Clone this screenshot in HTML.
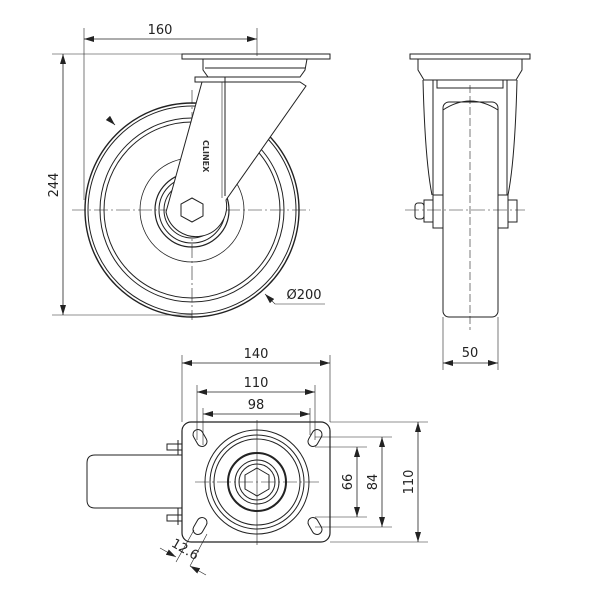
<!DOCTYPE html><html><head><style>body{margin:0;background:#fff}svg{display:block}text{font-family:"DejaVu Sans","Liberation Sans",sans-serif;font-size:13px;fill:#222}</style></head><body>
<svg width="600" height="600" viewBox="0 0 600 600" xmlns="http://www.w3.org/2000/svg">
<defs><marker id="a" markerWidth="10" markerHeight="6" refX="10" refY="3" orient="auto-start-reverse" markerUnits="userSpaceOnUse"><path d="M0,0 L10,3 L0,6 Z" fill="#222"/></marker></defs>
<g fill="none" stroke="#222" stroke-width="1">
<!-- SIDE VIEW -->
<circle cx="192" cy="210" r="107" stroke-width="1.4"/>
<circle cx="192" cy="210" r="104"/>
<circle cx="192" cy="210" r="92"/>
<circle cx="192" cy="210" r="88"/>
<circle cx="192" cy="210" r="52" stroke-width="0.8"/>
<circle cx="192" cy="210" r="37" stroke-width="1.2"/>
<circle cx="192" cy="210" r="33"/>
<circle cx="192" cy="210" r="28"/>
<line x1="72" y1="210" x2="310" y2="210" stroke-width="0.6" stroke-dasharray="14,3,2,3"/>
<line x1="192" y1="90" x2="192" y2="320" stroke-width="0.6" stroke-dasharray="14,3,2,3"/>
<rect x="182" y="54" width="148" height="5" fill="#fff"/>
<path d="M203,59 H307 L305,70 L300,77 H208 L203,70 Z" fill="#fff"/>
<line x1="205" y1="68" x2="305" y2="68"/>
<path d="M202,82 H300 L306,86 L226,200 A30 30 0 0 1 166,212 Z" fill="#fff"/>
<rect x="195" y="77" width="30" height="5" fill="#fff"/>
<line x1="225" y1="82" x2="225" y2="196"/>
<line x1="222" y1="82" x2="222" y2="198" stroke-width="0.6"/>
<polygon points="192,198 203,204 203,216 192,222 181,216 181,204" fill="#fff"/>
<text x="0" y="0" transform="translate(203,140) rotate(90)" style="font-size:8px;font-weight:bold;fill:#333;stroke:none">CLINEX</text>
<line x1="115" y1="125" x2="108" y2="118" marker-start="url(#a)" stroke-width="0.8"/>
<!-- 160 dim -->
<line x1="84" y1="28" x2="84" y2="200" stroke-width="0.6"/>
<line x1="257" y1="28" x2="257" y2="56" stroke-width="0.6"/>
<line x1="84" y1="39" x2="257" y2="39" marker-start="url(#a)" marker-end="url(#a)" stroke-width="0.8"/>
<!-- 244 dim -->
<line x1="52" y1="54" x2="182" y2="54" stroke-width="0.6"/>
<line x1="52" y1="315" x2="192" y2="315" stroke-width="0.6"/>
<line x1="63" y1="54" x2="63" y2="315" marker-start="url(#a)" marker-end="url(#a)" stroke-width="0.8"/>
<!-- dia 200 -->
<path d="M265,294 L275,304 H325" stroke-width="0.6" marker-start="url(#a)"/>
<!-- FRONT VIEW -->
<rect x="410" y="54" width="120" height="5" fill="#fff"/>
<path d="M418,59 H522 V70 L516,80 H424 L418,70 Z"/>
<path d="M423,80 Q425,160 432,195 M517,80 Q515,160 508,195"/>
<path d="M433,80 V195 M507,80 V195"/>
<rect x="437" y="80" width="66" height="8"/>
<rect x="443" y="102" width="55" height="215" rx="6" fill="#fff"/>
<path d="M443,110 Q470,92 498,110"/>
<rect x="433" y="195" width="10" height="33"/>
<rect x="498" y="195" width="10" height="33"/>
<rect x="424" y="200" width="9" height="22"/>
<rect x="508" y="200" width="9" height="22"/>
<rect x="415" y="203" width="9" height="16" rx="3"/>
<line x1="405" y1="210" x2="525" y2="210" stroke-width="0.6" stroke-dasharray="14,3,2,3"/>
<line x1="470" y1="85" x2="470" y2="330" stroke-width="0.6" stroke-dasharray="8,3"/>
<line x1="443" y1="317" x2="443" y2="370" stroke-width="0.6"/>
<line x1="498" y1="317" x2="498" y2="370" stroke-width="0.6"/>
<line x1="443" y1="363" x2="498" y2="363" marker-start="url(#a)" marker-end="url(#a)" stroke-width="0.8"/>
<!-- BOTTOM VIEW -->
<path d="M87,463 Q87,455 95,455 H182 V508 H95 Q87,508 87,500 Z"/>
<rect x="167" y="444" width="15" height="6"/>
<rect x="167" y="515" width="15" height="6"/>
<line x1="178" y1="440" x2="178" y2="455"/><line x1="178" y1="508" x2="178" y2="525"/>
<rect x="182" y="422" width="148" height="120" rx="9" fill="#fff" stroke-width="1.2"/>
<circle cx="257" cy="482" r="52"/>
<circle cx="257" cy="482" r="47"/>
<circle cx="257" cy="482" r="43"/>
<circle cx="257" cy="482" r="29" stroke-width="2"/>
<circle cx="257" cy="482" r="22"/>
<circle cx="257" cy="482" r="18"/>
<polygon points="257,468 269,475 269,489 257,496 245,489 245,475"/>
<line x1="195" y1="482" x2="320" y2="482" stroke-width="0.6" stroke-dasharray="14,3,2,3"/>
<line x1="257" y1="420" x2="257" y2="545" stroke-width="0.6"/>
<g stroke-width="1">
<rect x="-9" y="-5" width="18" height="10" rx="5" transform="translate(200,438) rotate(60)"/>
<rect x="-9" y="-5" width="18" height="10" rx="5" transform="translate(315,438) rotate(-60)"/>
<rect x="-9" y="-5" width="18" height="10" rx="5" transform="translate(200,526) rotate(-60)"/>
<rect x="-9" y="-5" width="18" height="10" rx="5" transform="translate(315,526) rotate(60)"/>
</g>
<!-- dims bottom -->
<line x1="182" y1="355" x2="182" y2="422" stroke-width="0.6"/>
<line x1="330" y1="355" x2="330" y2="422" stroke-width="0.6"/>
<line x1="182" y1="363" x2="330" y2="363" marker-start="url(#a)" marker-end="url(#a)" stroke-width="0.8"/>
<line x1="197" y1="385" x2="197" y2="440" stroke-width="0.6"/>
<line x1="315" y1="385" x2="315" y2="440" stroke-width="0.6"/>
<line x1="197" y1="392" x2="315" y2="392" marker-start="url(#a)" marker-end="url(#a)" stroke-width="0.8"/>
<line x1="203" y1="408" x2="203" y2="445" stroke-width="0.6"/>
<line x1="310" y1="408" x2="310" y2="435" stroke-width="0.6"/>
<line x1="203" y1="414" x2="310" y2="414" marker-start="url(#a)" marker-end="url(#a)" stroke-width="0.8"/>
<line x1="330" y1="422" x2="428" y2="422" stroke-width="0.6"/>
<line x1="330" y1="542" x2="428" y2="542" stroke-width="0.6"/>
<line x1="418" y1="422" x2="418" y2="542" marker-start="url(#a)" marker-end="url(#a)" stroke-width="0.8"/>
<line x1="315" y1="437" x2="392" y2="437" stroke-width="0.6"/>
<line x1="315" y1="527" x2="392" y2="527" stroke-width="0.6"/>
<line x1="382" y1="437" x2="382" y2="527" marker-start="url(#a)" marker-end="url(#a)" stroke-width="0.8"/>
<line x1="315" y1="447" x2="367" y2="447" stroke-width="0.6"/>
<line x1="315" y1="517" x2="367" y2="517" stroke-width="0.6"/>
<line x1="357" y1="447" x2="357" y2="517" marker-start="url(#a)" marker-end="url(#a)" stroke-width="0.8"/>
<line x1="194" y1="530" x2="176" y2="562" stroke-width="0.6"/>
<line x1="207" y1="534" x2="190" y2="566" stroke-width="0.6"/>
<line x1="160" y1="548" x2="176" y2="557" marker-end="url(#a)" stroke-width="0.6"/>
<line x1="206" y1="575" x2="190" y2="566" marker-end="url(#a)" stroke-width="0.6"/>
</g>
<text x="160" y="34" text-anchor="middle">160</text>
<text transform="translate(58,185) rotate(-90)" text-anchor="middle">244</text>
<text x="304" y="299" text-anchor="middle">Ø200</text>
<text x="470" y="357" text-anchor="middle">50</text>
<text x="256" y="358" text-anchor="middle">140</text>
<text x="256" y="387" text-anchor="middle">110</text>
<text x="256" y="409" text-anchor="middle">98</text>
<text transform="translate(352,482) rotate(-90)" text-anchor="middle">66</text>
<text transform="translate(377,482) rotate(-90)" text-anchor="middle">84</text>
<text transform="translate(413,482) rotate(-90)" text-anchor="middle">110</text>
<text transform="translate(183,553) rotate(30)" text-anchor="middle">12.6</text>
</svg>
</body></html>
